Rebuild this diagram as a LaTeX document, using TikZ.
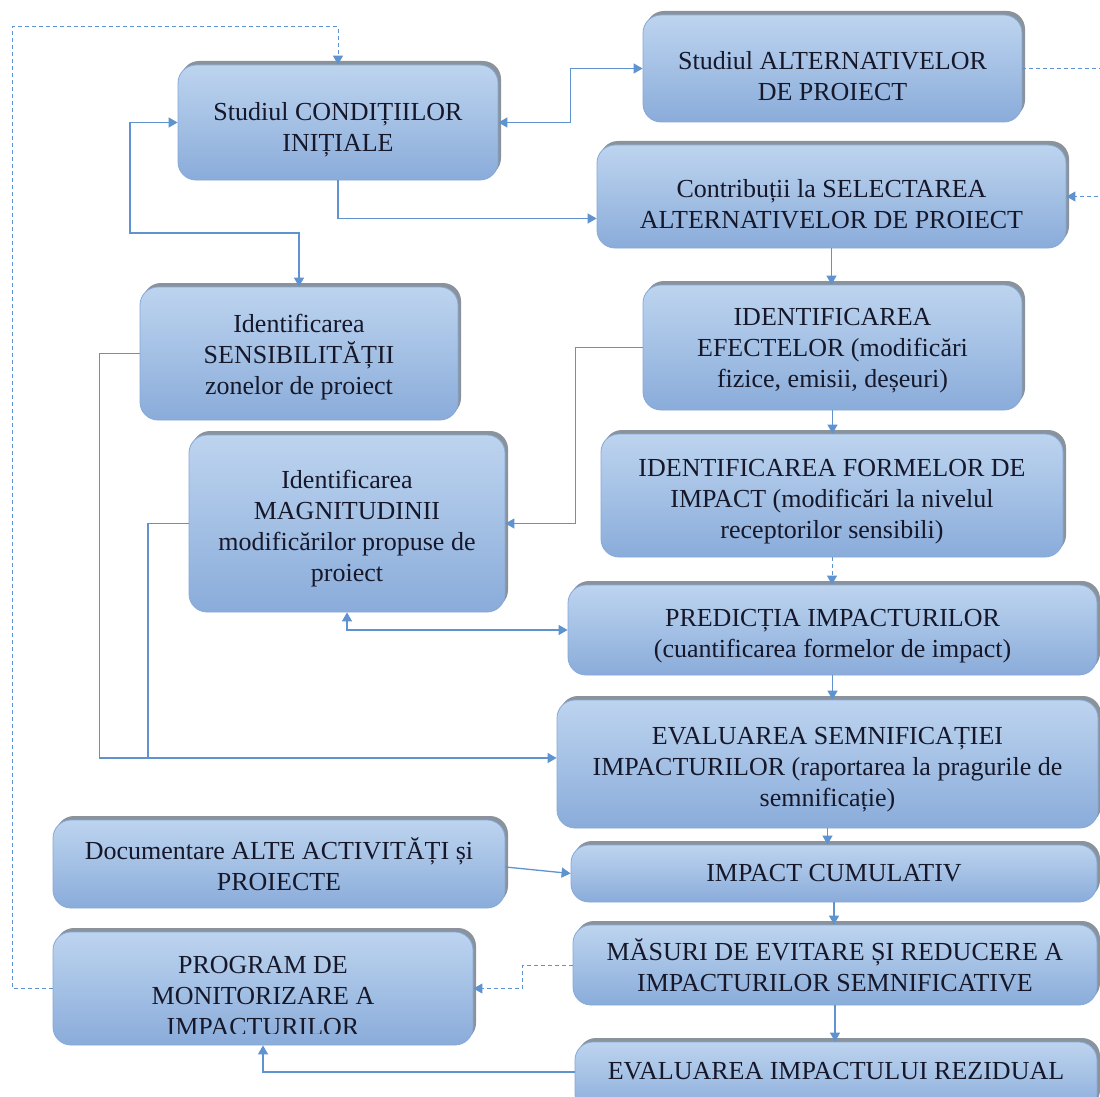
\documentclass[tikz,border=0pt]{standalone}
\usepackage{fontspec}
\setmainfont{Liberation Serif}
\usetikzlibrary{arrows.meta,shadows,calc}
\definecolor{boxtop}{HTML}{BDD4EF}
\definecolor{boxbot}{HTML}{8AACDA}
\definecolor{boxedge}{HTML}{86A9D8}
\definecolor{shadowc}{HTML}{8A929C}
\definecolor{linec}{HTML}{5E93CF}
\definecolor{txtc}{HTML}{16182A}
\newcommand\tsh[1]{\rule{0pt}{#1pt}}
\begin{document}
\begin{tikzpicture}[x=1pt,y=-1pt,
  box/.style={rounded corners=18pt, top color=boxtop, bottom color=boxbot,
    draw=boxedge, line width=0.8pt,
    general shadow={fill=shadowc, shadow xshift=3pt, shadow yshift=4pt},
    align=center, text=txtc, font=\fontsize{26}{31}\selectfont, inner sep=0pt},
  txt/.style={align=center, text=txtc, font=\fontsize{26}{31}\selectfont, inner sep=0pt},
  conn/.style={draw=linec, line width=1.3pt},
  dconn/.style={conn, dash pattern=on 4pt off 3pt, line width=1pt},
  >={Triangle[length=9pt,width=10pt]}
]
\clip (0,0) rectangle (1100,1097);
\fill[white] (0,0) rectangle (1100,1097);

\node[box, minimum width=320pt, minimum height=115pt] (A) at (338,122.5) {\tsh{32}Studiul CONDIȚIILOR\\INIȚIALE};
\node[box, minimum width=379pt, minimum height=107pt] (B) at (832.5,68.5) {\tsh{34}Studiul ALTERNATIVELOR\\DE PROIECT};
\node[box, minimum width=469pt, minimum height=103pt] (C) at (831.5,196.5) {\tsh{34}Contribuții la SELECTAREA\\ALTERNATIVELOR DE PROIECT};
\node[box, minimum width=318pt, minimum height=133pt] (D) at (299,353.5) {\tsh{26}Identificarea\\SENSIBILITĂȚII\\zonelor de proiect};
\node[box, minimum width=379pt, minimum height=125pt] (E) at (832.5,347.5) {\tsh{23}IDENTIFICAREA\\EFECTELOR (modificări\\fizice, emisii, deșeuri)};
\node[box, minimum width=316pt, minimum height=177pt] (F) at (347,523.5) {\tsh{28}Identificarea\\MAGNITUDINII\\modificărilor propuse de\\proiect};
\node[box, minimum width=462pt, minimum height=123pt] (G) at (832,495.5) {\tsh{29}IDENTIFICAREA FORMELOR DE\\IMPACT (modificări la nivelul\\receptorilor sensibili)};
\node[box, minimum width=529pt, minimum height=90pt] (H) at (832.5,630) {\tsh{29}PREDICȚIA IMPACTURILOR\\(cuantificarea formelor de impact)};
\node[box, minimum width=541pt, minimum height=128pt] (I) at (827.5,764) {\tsh{29}EVALUAREA SEMNIFICAȚIEI\\IMPACTURILOR (raportarea la pragurile de\\semnificație)};
\node[box, minimum width=452pt, minimum height=88pt] (J) at (279,864) {Documentare ALTE ACTIVITĂȚI și\\PROIECTE};
\node[box, minimum width=526pt, minimum height=57pt] (K) at (834,873.5) {IMPACT CUMULATIV};
\node[box, minimum width=524pt, minimum height=80pt] (L) at (835,965) {MĂSURI DE EVITARE ȘI REDUCERE A\\IMPACTURILOR SEMNIFICATIVE};
\node[box, minimum width=420pt, minimum height=113pt] (M) at (263,988.5) {};
\begin{scope}
\clip (40,920) rectangle (480,1033);
\node[txt] (Mt) at (263,996) {PROGRAM DE\\MONITORIZARE A\\IMPACTURILOR};
\end{scope}
\node[box, minimum width=522pt, minimum height=70pt] (N) at (836,1077) {EVALUAREA IMPACTULUI REZIDUAL\rule[-12pt]{0pt}{12pt}};

\coordinate (t1) at (12,27);
\coordinate (k1) at (130,233);
\coordinate (j1) at (148,758);

\draw[dconn,->] (M.west) -| (t1) -| (A.north);
\draw[dconn,->] (B.east) -- ++(100,0) |- (C.east);
\draw[conn,<->] (A.east) -- ++(72,0) |- (B.west);
\draw[conn,->] (A.south) |- ([yshift=-22pt]C.west);
\draw[conn,<->] (A.west) -| (k1) -| (D.north);
\draw[conn,->] (C.south) -- (C.south |- E.north);
\draw[conn,->] (E.west) -- ++(-67,0) |- (F.east);
\draw[conn,->] (E.south) -- (E.south |- G.north);
\draw[dconn,->] (G.south) -- (G.south |- H.north);
\draw[conn,<->] (F.south) |- (H.west);
\draw[conn,->] (H.south) -- (H.south |- I.north);
\draw[conn,->] (D.west) -- ++(-40,0) |- ([yshift=6pt]I.west);
\draw[conn] (F.west) -| (j1);
\draw[conn,->] (I.south) -- (I.south |- K.north);
\draw[conn,->] ([yshift=-3pt]J.east) -- (K.west);
\draw[conn,->] (K.south) -- (K.south |- L.north);
\draw[dconn,->] (L.west) -- ++(-50,0) |- (M.east);
\draw[conn,->] (L.south) -- (L.south |- N.north);
\draw[conn,->] ([yshift=5pt]N.west) -| (M.south);
\end{tikzpicture}
\end{document}
